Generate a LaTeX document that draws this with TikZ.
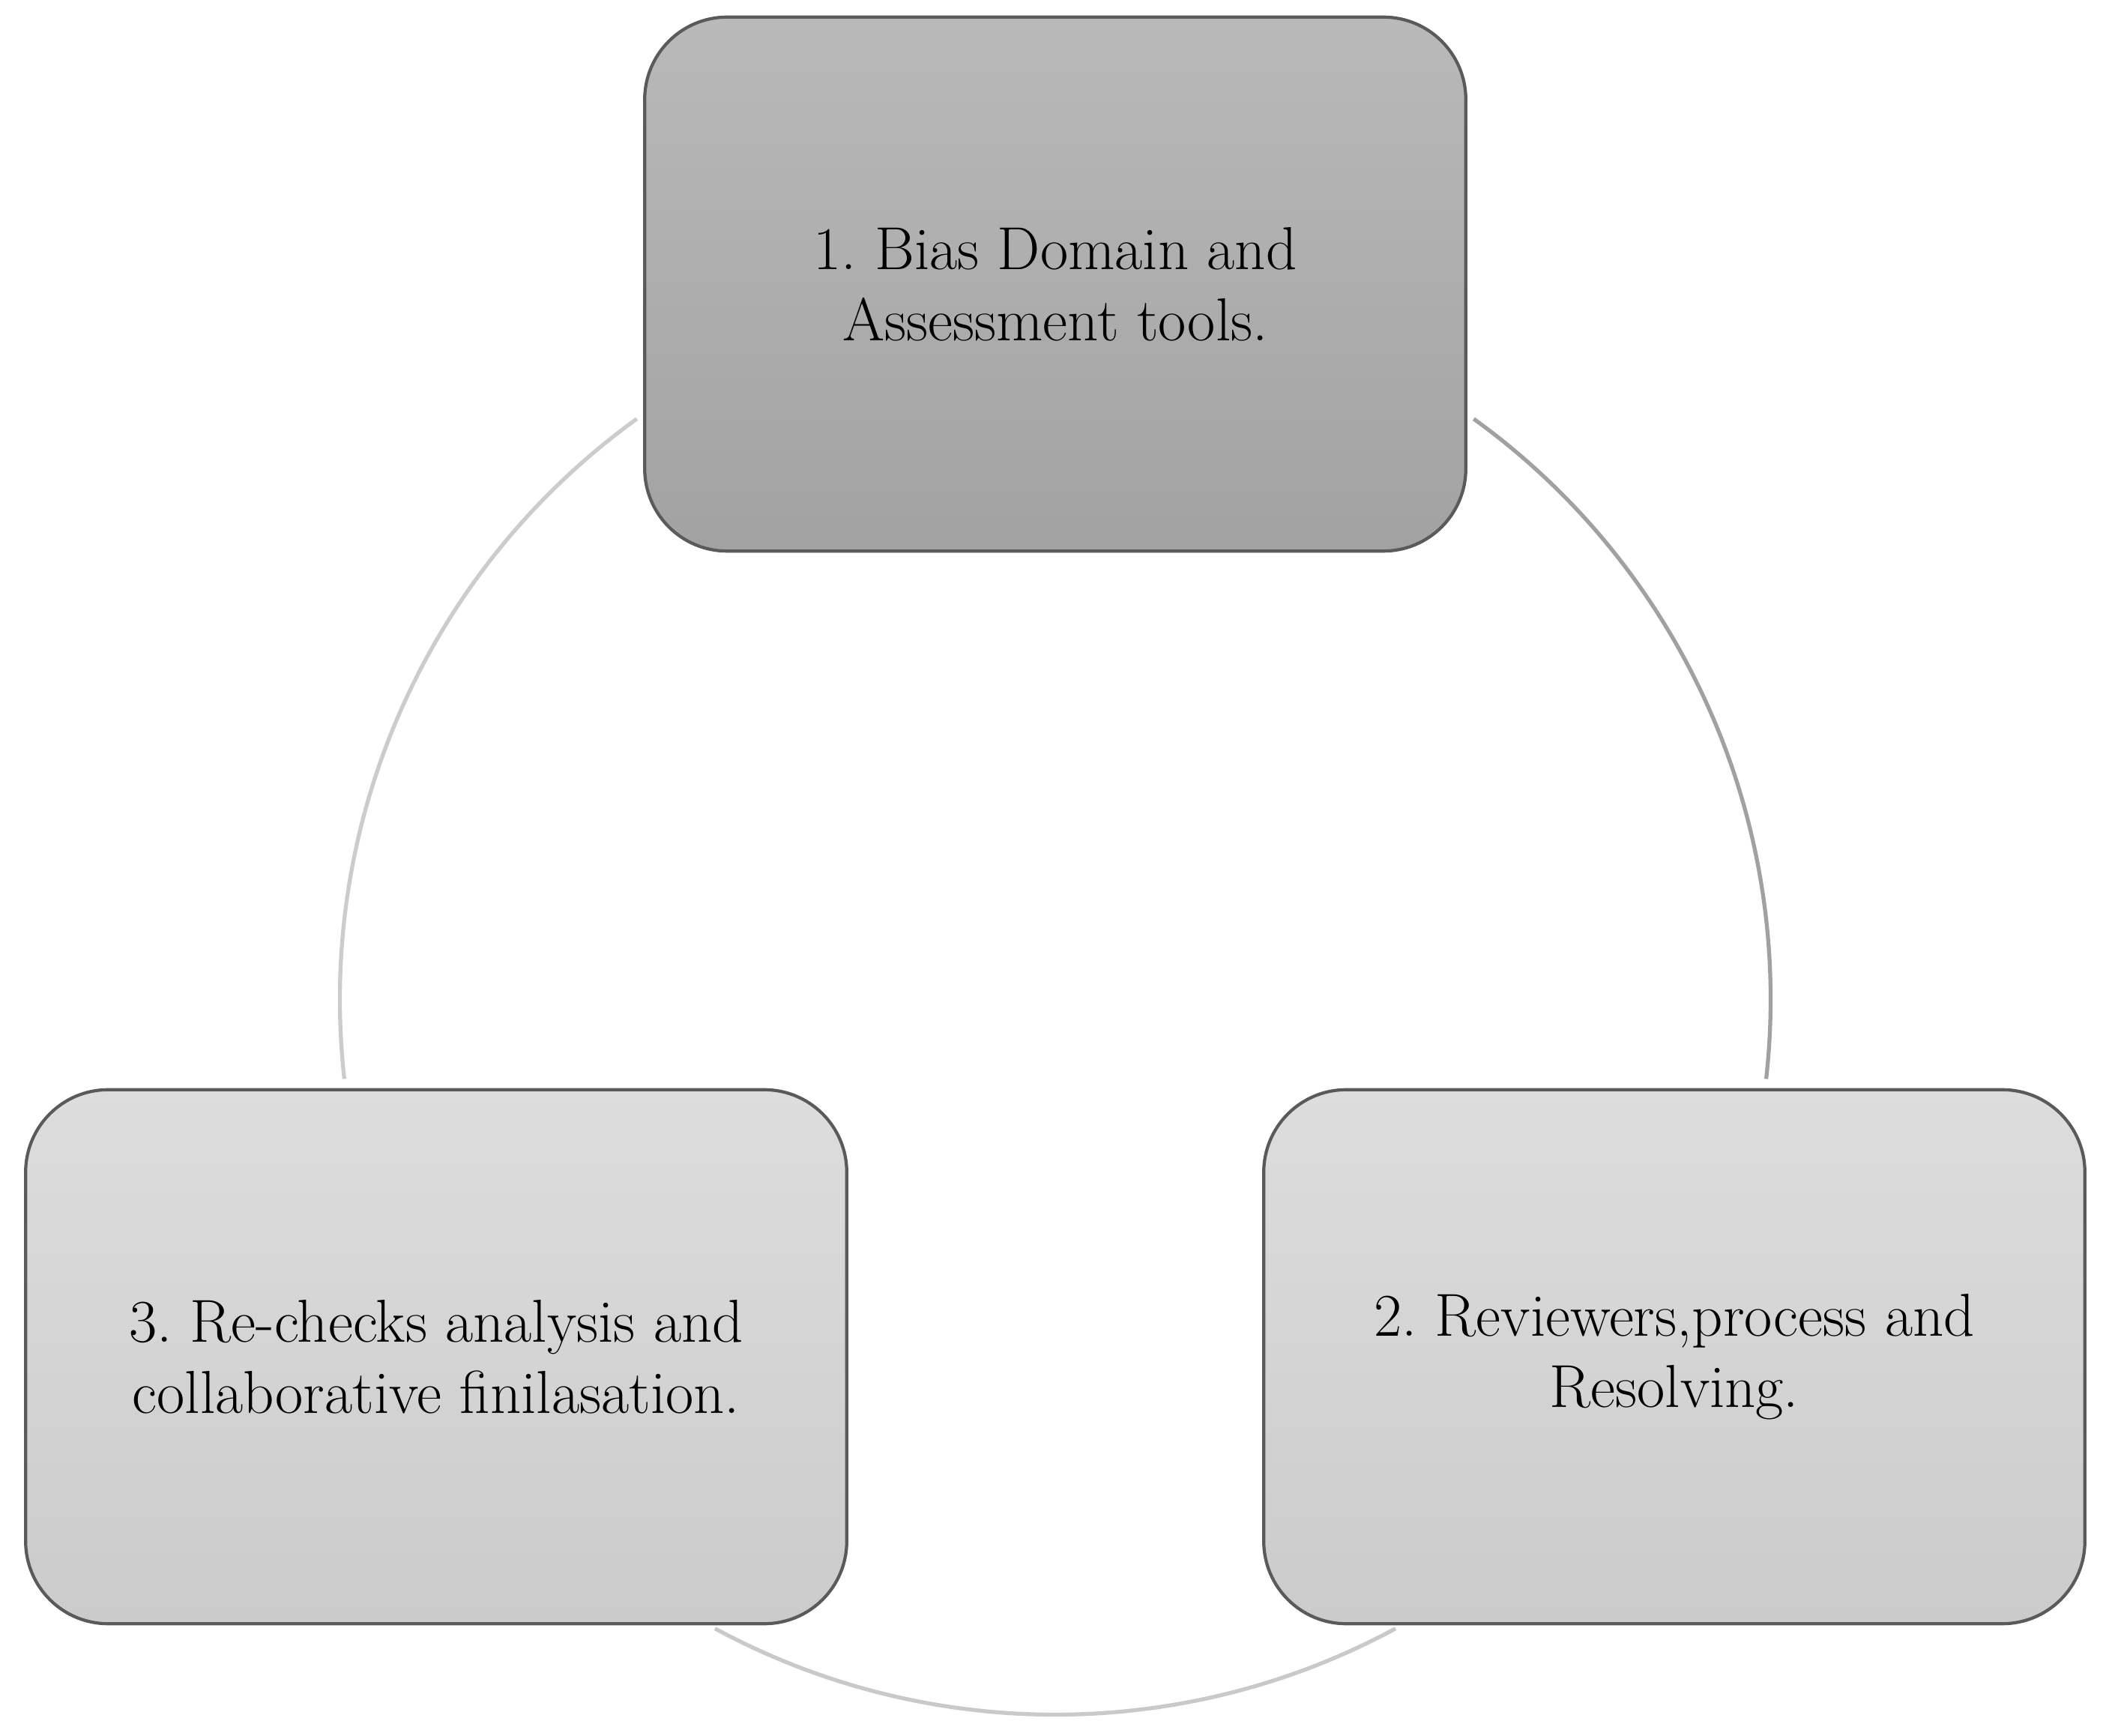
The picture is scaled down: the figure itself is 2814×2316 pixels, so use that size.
\documentclass[tikz,border=0pt]{standalone}
\usepackage{tikz}

\definecolor{boxline}{RGB}{90,90,90}
\definecolor{darktop}{RGB}{185,185,185}
\definecolor{darkbot}{RGB}{162,162,162}
\definecolor{lighttop}{RGB}{221,221,221}
\definecolor{lightbot}{RGB}{203,203,203}

\begin{document}
\frenchspacing
\begin{tikzpicture}[x=0.01cm,y=-0.01cm,
	stage/.style={draw=boxline, line width=1.2pt, rounded corners=1.1cm,
		minimum width=10.95cm, minimum height=7.12cm, align=center,
		font=\fontsize{23}{27}\selectfont},
	cyclearc/.style={line width=1.5pt}]
	\useasboundingbox (0,0) rectangle (2814,2316);

	% circle the three steps sit on
	\coordinate (mid) at (1408,1333);
	\draw[cyclearc, color=black!37] (mid) ++(54.2:9.54cm) arc[start angle=54.2, end angle=-6.4, radius=9.54cm];
	\draw[cyclearc, color=black!21] (mid) ++(-61.6:9.54cm) arc[start angle=-61.6, end angle=-118.4, radius=9.54cm];
	\draw[cyclearc, color=black!20] (mid) ++(186.4:9.54cm) arc[start angle=186.4, end angle=125.8, radius=9.54cm];

	% steps
	\node (bias) at (1408,379) [stage, top color=darktop, bottom color=darkbot]
		{1. Bias Domain and\\Assessment tools.};
	\node (review) at (2234,1810) [stage, top color=lighttop, bottom color=lightbot]
		{2. Reviewers,process and\\Resolving.};
	\node (recheck) at (582,1810) [stage, top color=lighttop, bottom color=lightbot]
		{3. Re-checks analysis and\\collaborative finilasation.};
\end{tikzpicture}
\end{document}
